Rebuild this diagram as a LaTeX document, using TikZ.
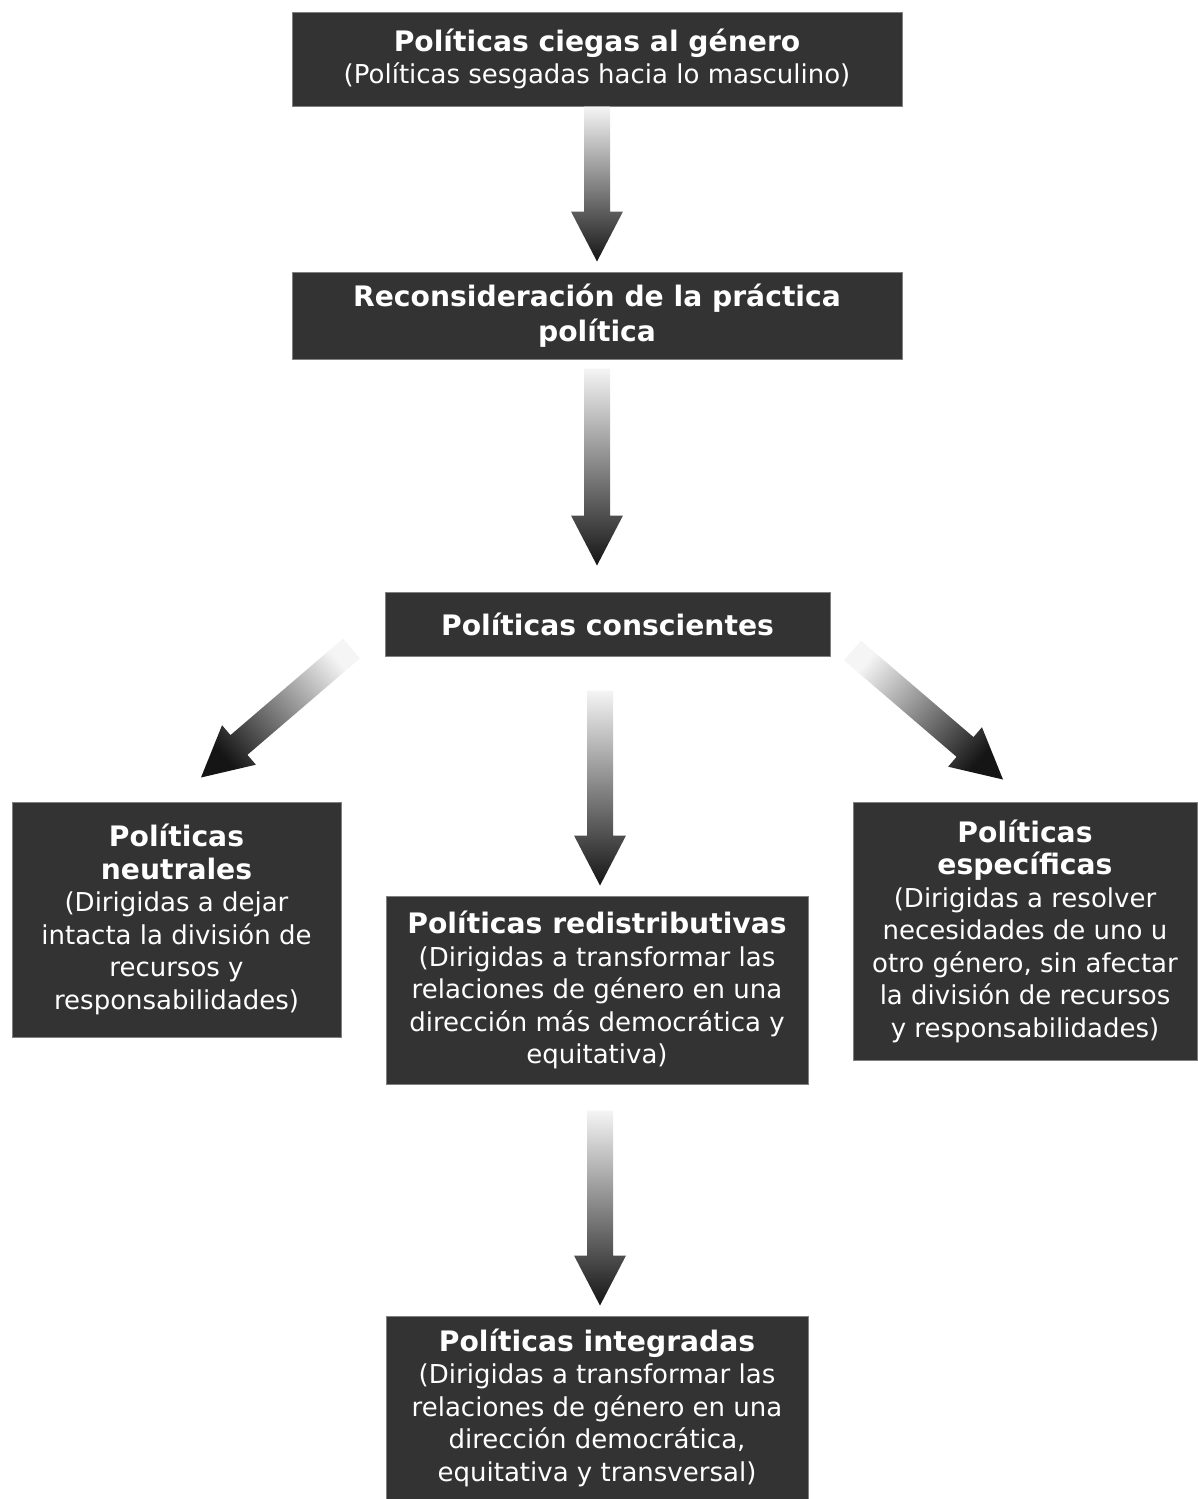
\documentclass[tikz,border=0pt]{standalone}
\usepackage{fontspec}
\setmainfont{DejaVu Sans}
\usetikzlibrary{calc}

\definecolor{boxgray}{HTML}{333333}
\definecolor{edgegray}{HTML}{808080}
\definecolor{tipgray}{HTML}{151515}

\newcommand{\ptitle}[1]{{\fontsize{28.2}{34}\selectfont\bfseries #1}}

\tikzset{
  polbox/.style={draw=edgegray, line width=1pt, fill=boxgray, text=white,
    align=center, inner sep=0pt, font=\fontsize{26}{32.5}\selectfont},
}

% block arrow: tail, tip, shading angle
\newcommand{\blockarrow}[3]{%
  \coordinate (ah) at ($#2!50pt!#1$);
  \shade[top color=white!96!black, bottom color=tipgray, shading angle=#3]
    ($#1!13pt!90:#2$) -- ($(ah)!13pt!-90:#1$) -- ($(ah)!26pt!-90:#1$) -- #2
    -- ($(ah)!26pt!90:#1$) -- ($(ah)!13pt!90:#1$) -- ($#1!13pt!-90:#2$) -- cycle;}

\begin{document}
\begin{tikzpicture}[x=1pt,y=-1pt]
  \useasboundingbox (0,0) rectangle (1197,1499);

  \node[polbox, minimum width=610pt, minimum height=94pt] (ciegas) at (597,59)
    {\ptitle{Políticas ciegas al género}\\(Políticas sesgadas hacia lo masculino)};
  \node[polbox, minimum width=610pt, minimum height=87pt,
        font=\fontsize{28.2}{35}\selectfont\bfseries] (recons) at (597,315.5)
    {Reconsideración de la práctica\\política};
  \node[polbox, minimum width=445pt, minimum height=64pt] (consc) at (607.5,624)
    {\ptitle{Políticas conscientes}};
  \node[polbox, minimum width=329pt, minimum height=235pt] (neutr) at (176.5,919.5)
    {\ptitle{Políticas}\\\ptitle{neutrales}\\(Dirigidas a dejar\\intacta la división de\\recursos y\\responsabilidades)};
  \node[polbox, minimum width=422pt, minimum height=188pt] (redis) at (597,990)
    {\ptitle{Políticas redistributivas}\\(Dirigidas a transformar las\\relaciones de género en una\\dirección más democrática y\\equitativa)};
  \node[polbox, minimum width=344pt, minimum height=258pt] (espec) at (1025,931)
    {\ptitle{Políticas}\\\ptitle{específicas}\\(Dirigidas a resolver\\necesidades de uno u\\otro género, sin afectar\\la división de recursos\\y responsabilidades)};
  \node[polbox, minimum width=422pt, minimum height=183pt] (integ) at (597,1407.5)
    {\ptitle{Políticas integradas}\\(Dirigidas a transformar las\\relaciones de género en una\\dirección democrática,\\equitativa y transversal)};

  % arrow ends
  \coordinate (a1s) at (ciegas.south);
  \coordinate (a1e) at ($(recons.north)+(0,-10)$);
  \coordinate (a2s) at ($(recons.south)+(0,9)$);
  \coordinate (a2e) at ($(consc.north)+(-10.5,-26)$);
  \coordinate (a3s) at ($(consc.south)+(-7.5,34)$);
  \coordinate (a3e) at ($(redis.north)+(3,-10)$);
  \coordinate (a4s) at ($(redis.south)+(3,26)$);
  \coordinate (a4e) at ($(integ.north)+(3,-10)$);
  \coordinate (als) at ($(consc.south west)+(-33,-8)$);
  \coordinate (ale) at ($(neutr.north)+(24.5,-24)$);
  \coordinate (ars) at ($(consc.south east)+(22,-6)$);
  \coordinate (are) at ($(espec.north)+(-22,-22)$);

  \blockarrow{(a1s)}{(a1e)}{0}
  \blockarrow{(a2s)}{(a2e)}{0}
  \blockarrow{(a3s)}{(a3e)}{0}
  \blockarrow{(a4s)}{(a4e)}{0}
  \blockarrow{(als)}{(ale)}{-49}
  \blockarrow{(ars)}{(are)}{49}
\end{tikzpicture}
\end{document}
